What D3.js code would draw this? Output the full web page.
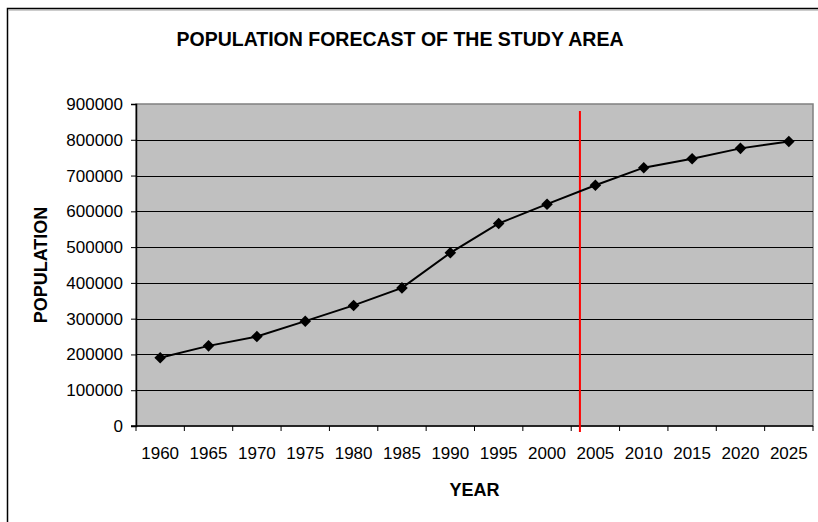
<!DOCTYPE html>
<html>
<head>
<meta charset="utf-8">
<script src="https://cdn.jsdelivr.net/npm/d3@7"></script>
<style>
  body { margin: 0; background: #fff; }
  svg { display: block; font-family: Arial, "Liberation Sans", sans-serif; }
</style>
</head>
<body>
<div id="chart"></div>
<script>
// Data
const years = [1960, 1965, 1970, 1975, 1980, 1985, 1990, 1995, 2000, 2005, 2010, 2015, 2020, 2025];
const population = [191000, 224000, 250000, 293000, 337000, 386000, 484000, 566000, 620000, 673000, 722000, 747000, 776000, 795000];
const yTicks = [0, 100000, 200000, 300000, 400000, 500000, 600000, 700000, 800000, 900000];
const forecastStart = 2003.4; // red marker line

const width = 818;
const height = 522;
const margin = { top: 104, right: 5, bottom: 96, left: 136 };

const svg = d3.select("#chart")
    .append("svg")
    .attr("width", width)
    .attr("height", height);

// Outer chart frame (runs off the right and bottom edges)
svg.append("rect")
    .attr("x", 7.5)
    .attr("y", 8.5)
    .attr("width", 840)
    .attr("height", 540)
    .attr("fill", "none")
    .attr("stroke", "#000")
    .attr("stroke-width", 1.5);
svg.append("line")
    .attr("x1", 9).attr("x2", width)
    .attr("y1", 10).attr("y2", 10)
    .attr("stroke", "#999");

// Scales
const x = d3.scaleBand()
    .domain(years)
    .range([margin.left, width - margin.right])
    .padding(0);

const y = d3.scaleLinear()
    .domain([0, 900000])
    .range([height - margin.bottom, margin.top]);

const xYear = d3.scaleLinear()
    .domain([years[0], years[years.length - 1]])
    .range([x(years[0]) + x.bandwidth() / 2, x(years[years.length - 1]) + x.bandwidth() / 2]);

const plotLeft = x.range()[0], plotRight = x.range()[1];
const plotTop = y(900000), plotBottom = y(0);

// Plot area
svg.append("rect")
    .attr("x", plotLeft)
    .attr("y", plotTop)
    .attr("width", plotRight - plotLeft)
    .attr("height", plotBottom - plotTop)
    .attr("fill", "#c0c0c0")
    .attr("stroke", "#808080")
    .attr("stroke-width", 1.5);

// Gridlines
svg.append("g")
    .selectAll("line")
    .data(yTicks.filter(d => d > 0 && d < 900000))
    .enter()
    .append("line")
    .attr("x1", plotLeft)
    .attr("x2", plotRight)
    .attr("y1", d => Math.round(y(d)) + 0.5)
    .attr("y2", d => Math.round(y(d)) + 0.5)
    .attr("stroke", "#000")
    .attr("stroke-width", 1);

// Y axis
const yAxis = d3.axisLeft(y)
    .tickValues(yTicks)
    .tickSize(5)
    .tickPadding(8)
    .tickFormat(d3.format("d"));

svg.append("g")
    .attr("transform", `translate(${plotLeft},0)`)
    .call(yAxis)
    .call(g => g.select(".domain").attr("stroke", "#000").attr("stroke-width", 1.5))
    .call(g => g.selectAll("text").attr("font-size", 17).attr("fill", "#000"));

// X axis: ticks at category boundaries, labels at centres
const xAxis = svg.append("g");
xAxis.append("line")
    .attr("x1", plotLeft - 5)
    .attr("x2", plotRight)
    .attr("y1", plotBottom)
    .attr("y2", plotBottom)
    .attr("stroke", "#000")
    .attr("stroke-width", 1.5);

xAxis.selectAll(".tick")
    .data(years.map(d => x(d)).concat([plotRight]))
    .enter()
    .append("line")
    .attr("x1", d => d)
    .attr("x2", d => d)
    .attr("y1", plotBottom)
    .attr("y2", plotBottom + 5)
    .attr("stroke", "#000");

xAxis.selectAll(".label")
    .data(years)
    .enter()
    .append("text")
    .attr("x", d => x(d) + x.bandwidth() / 2)
    .attr("y", plotBottom + 33)
    .attr("text-anchor", "middle")
    .attr("font-size", 17)
    .text(d => d);

// Forecast marker line
svg.append("line")
    .attr("x1", xYear(forecastStart))
    .attr("x2", xYear(forecastStart))
    .attr("y1", plotTop + 7)
    .attr("y2", plotBottom + 6)
    .attr("stroke", "#ff0000")
    .attr("stroke-width", 2);

// Series line
const line = d3.line()
    .x((d, i) => x(years[i]) + x.bandwidth() / 2)
    .y(d => y(d));

svg.append("path")
    .datum(population)
    .attr("d", line)
    .attr("fill", "none")
    .attr("stroke", "#000")
    .attr("stroke-width", 2);

// Diamond markers
svg.append("g")
    .selectAll("path")
    .data(population)
    .enter()
    .append("path")
    .attr("d", d3.symbol().type(d3.symbolDiamond2).size(85))
    .attr("transform", (d, i) => `translate(${x(years[i]) + x.bandwidth() / 2},${y(d)})`)
    .attr("fill", "#000");

// Titles
svg.append("text")
    .attr("x", 400)
    .attr("y", 46)
    .attr("text-anchor", "middle")
    .attr("font-size", 19.5)
    .attr("font-weight", "bold")
    .text("POPULATION FORECAST OF THE STUDY AREA");

svg.append("text")
    .attr("x", (plotLeft + plotRight) / 2)
    .attr("y", 496)
    .attr("text-anchor", "middle")
    .attr("font-size", 18)
    .attr("font-weight", "bold")
    .text("YEAR");

svg.append("text")
    .attr("transform", `translate(47,${(plotTop + plotBottom) / 2}) rotate(-90)`)
    .attr("text-anchor", "middle")
    .attr("font-size", 18)
    .attr("font-weight", "bold")
    .text("POPULATION");
</script>
</body>
</html>
